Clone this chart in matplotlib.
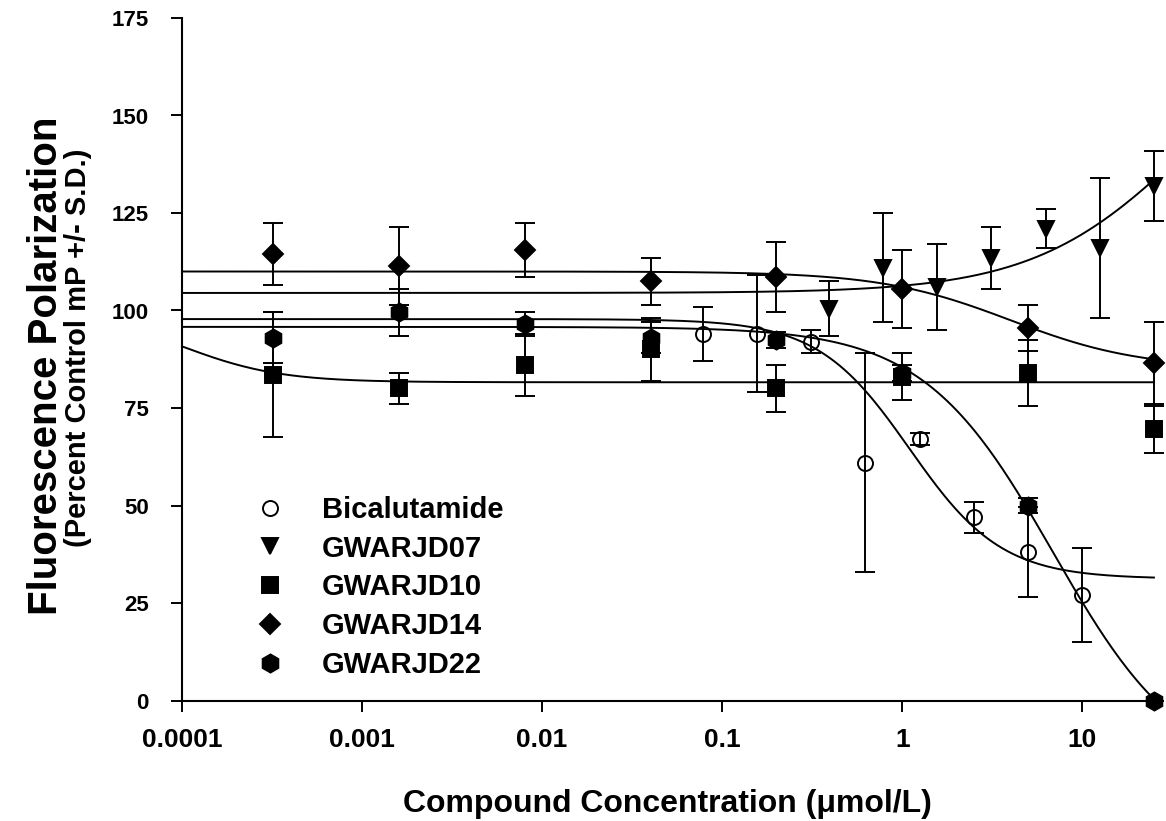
import numpy as np
import matplotlib
matplotlib.use("Agg")
import matplotlib.pyplot as plt

plt.rcParams['font.family'] = ['Liberation Sans', 'DejaVu Sans']
plt.rcParams['font.weight'] = 'bold'

# concentrations (umol/L)
conc = [0.00032, 0.0016, 0.008, 0.04, 0.2, 1, 5, 25]
conc_bic = [0.078125, 0.15625, 0.3125, 0.625, 1.25, 2.5, 5, 10]
conc_07 = [0.390625, 0.78125, 1.5625, 3.125, 6.25, 12.5, 25]

# percent control mP and S.D.
bic = [94, 94, 92, 61, 67, 47, 38, 27]
bic_sd = [7, 15, 3, 28, 1.5, 4, 11.5, 12]
gw07 = [100.5, 111, 106, 113.5, 121, 116, 132]
gw07_sd = [7, 14, 11, 8, 5, 18, 9]
gw10 = [83.5, 80, 86, 90, 80, 83, 84, 69.5]
gw10_sd = [16, 4, 8, 8, 6, 6, 8.5, 6]
gw14 = [114.5, 111.5, 115.5, 107.5, 108.5, 105.5, 95.5, 86.5]
gw14_sd = [8, 10, 7, 6, 9, 10, 6, 10.5]
gw22 = [93, 99.5, 96.5, 93, 92.5, 84, 50, 0]
gw22_sd = [6.5, 6, 3, 4, 2, 2, 2, 0]

# sigmoid fit parameters: low-conc value, high-conc value, midpoint, slope
fit_bic = [97.8, 31.2, 1.1, 1.7]
fit_07 = [104.5, 180, 40, 1.0]
fit_10 = [100, 81.6, 0.0001, 1.6]
fit_14 = [110, 85, 4, 1.2]
fit_22 = [95.8, -20, 6.9, 1.2]

names = ['Bicalutamide', 'GWARJD07', 'GWARJD10', 'GWARJD14', 'GWARJD22']
xticks = [0.0001, 0.001, 0.01, 0.1, 1, 10]
xticklabels = ['0.0001', '0.001', '0.01', '0.1', '1', '10']
yticks = [0, 25, 50, 75, 100, 125, 150, 175]


def sigmoid(x, p):
    a1, a2, x0, h = p
    return a2 + (a1 - a2) / (1 + (x / x0) ** h)


fig = plt.figure(figsize=(11.66, 8.21), dpi=100)
ax = fig.add_axes([182/1166, 1-700.5/821, 975/1166, 682.5/821])

xs = np.logspace(-4, np.log10(25), 400)
for p in [fit_bic, fit_07, fit_10, fit_14, fit_22]:
    ax.plot(xs, sigmoid(xs, p), color='black', lw=1.4, clip_on=False)

series = [
    (conc_bic, bic, bic_sd, 'o', 10.8, 'none'),
    (conc_07, gw07, gw07_sd, 'v', 11.5, 'black'),
    (conc, gw10, gw10_sd, 's', 11.5, 'black'),
    (conc, gw14, gw14_sd, 'D', 10, 'black'),
    (conc, gw22, gw22_sd, 'h', 13, 'black'),
]
handles = []
for (x, y, e, m, ms, fc), name in zip(series, names):
    eb = ax.errorbar(x, y, yerr=e, fmt=m, ms=ms, mfc=fc, mec='black', mew=1.4,
                     color='black', ecolor='black', elinewidth=1.4, capsize=7.5,
                     capthick=1.4, clip_on=False, label=name, zorder=3)
    for a in eb.lines[1]:
        a.set_clip_on(False)
    for a in eb.lines[2]:
        a.set_clip_on(False)
    h, = ax.plot([], [], m, ms=ms, mfc=fc, mec='black', mew=1.4, ls='none', label=name)
    handles.append(h)

ax.set_xscale('log')
ax.set_xlim(0.0001, 26)
ax.set_ylim(0, 175)
ax.set_xticks(xticks, xticklabels)
ax.minorticks_off()
ax.set_yticks(yticks)
ax.spines['top'].set_visible(False)
ax.spines['right'].set_visible(False)
for s in ['left', 'bottom']:
    ax.spines[s].set_linewidth(1.5)
ax.tick_params(axis='x', direction='out', length=8, width=1.4, labelsize=19, pad=12)
ax.tick_params(axis='y', direction='out', length=8, width=1.4, labelsize=16, pad=16)
for lab in ax.get_xticklabels() + ax.get_yticklabels():
    lab.set_fontweight('bold')

fig.text(667/1166, 1-812/821, 'Compound Concentration (\u03bcmol/L)', ha='center',
         va='baseline', fontsize=23, fontweight='bold')
fig.text(57/1166, 1-366/821, 'Fluorescence Polarization', rotation=90,
         rotation_mode='anchor', ha='center', va='baseline', fontsize=29, fontweight='bold')
fig.text(86/1166, 1-348/821, '(Percent Control mP +/- S.D.)', rotation=90,
         rotation_mode='anchor', ha='center', va='baseline', fontsize=21, fontweight='bold')

ax.legend(handles=handles, loc='upper left', bbox_to_anchor=(0.0677, 0.300),
          frameon=False, borderpad=0, borderaxespad=0, handlelength=1.5,
          handletextpad=1.03, labelspacing=0.37, prop={'size': 21, 'weight': 'bold'})

fig.savefig('out.png', dpi=100)
